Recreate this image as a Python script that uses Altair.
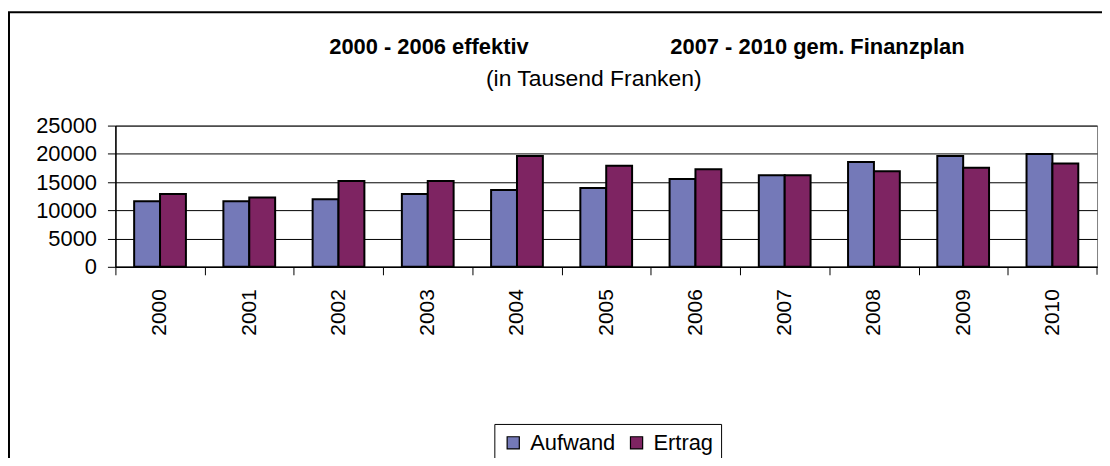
import altair as alt
import pandas as pd

years = ["2000", "2001", "2002", "2003", "2004", "2005", "2006", "2007", "2008", "2009", "2010"]
aufwand = [11600, 11600, 11950, 12900, 13600, 13950, 15550, 16200, 18550, 19600, 19950]
ertrag = [12900, 12250, 15200, 15200, 19600, 17900, 17250, 16200, 16900, 17550, 18300]
series = ["Aufwand", "Ertrag"]
colors = ["#7479B8", "#7E2462"]
y_ticks = [0, 5000, 10000, 15000, 20000, 25000]
title_left = ["2000 - 2006 effektiv"]
title_right = ["2007 - 2010 gem. Finanzplan"]
subtitle = ["(in Tausend Franken)"]

rows = []
for i, yr in enumerate(years):
    rows.append({"Jahr": yr, "Serie": series[0], "Wert": aufwand[i]})
    rows.append({"Jahr": yr, "Serie": series[1], "Wert": ertrag[i]})
df = pd.DataFrame(rows)

FONT = "Liberation Sans"
STEP = 987 / 11

bars = alt.Chart(df).mark_bar(stroke="black", strokeWidth=2).encode(
    x=alt.X("Jahr:N", sort=years,
            scale=alt.Scale(paddingInner=0.42, paddingOuter=0.21),
            axis=alt.Axis(title=None, labelAngle=-90, labelAlign="right", labelBaseline="middle",
                          labelFont=FONT, labelFontSize=21, labelColor="black", labelPadding=14,
                          tickOffset=-STEP / 2, labelOffset=STEP / 2, tickSize=8, tickColor="black",
                          domainColor="black", domainWidth=1.5, grid=False)),
    xOffset=alt.XOffset("Serie:N", sort=series, scale=alt.Scale(paddingInner=0, paddingOuter=0)),
    y=alt.Y("Wert:Q", scale=alt.Scale(domain=[0, 25000], nice=False),
            axis=alt.Axis(title=None, values=y_ticks, format="d", labelFont=FONT, labelFontSize=22,
                          labelColor="black", labelPadding=11, tickSize=8, tickColor="black",
                          domainColor="black", domainWidth=1.5, grid=True, gridColor="black",
                          gridWidth=1)),
    color=alt.Color("Serie:N", sort=series,
                    scale=alt.Scale(domain=series, range=colors),
                    legend=alt.Legend(title=None, orient="none", legendX=381, legendY=300,
                                      direction="horizontal", symbolType="square", symbolSize=150,
                                      symbolStrokeColor="black", symbolStrokeWidth=1.2,
                                      labelFont=FONT, labelFontSize=22, labelColor="black",
                                      strokeColor="black", fillColor="white", padding=8,
                                      columnPadding=10, labelOffset=6)),
)

t1 = alt.Chart(pd.DataFrame({"t": title_left})).mark_text(
    font=FONT, fontSize=22, fontWeight="bold", align="left", baseline="middle", color="black"
).encode(x=alt.value(215), y=alt.value(-79), text="t:N")

t2 = alt.Chart(pd.DataFrame({"t": title_right})).mark_text(
    font=FONT, fontSize=22, fontWeight="bold", align="left", baseline="middle", color="black"
).encode(x=alt.value(558), y=alt.value(-79), text="t:N")

t3 = alt.Chart(pd.DataFrame({"t": subtitle})).mark_text(
    font=FONT, fontSize=23, align="center", baseline="middle", color="black"
).encode(x=alt.value(481), y=alt.value(-47), text="t:N")

end_tick = alt.Chart(pd.DataFrame({"a": [0]})).mark_rule(color="black", strokeWidth=1).encode(
    x=alt.value(987), y=alt.value(142), y2=alt.value(150))

border_left = alt.Chart(pd.DataFrame({"a": [0]})).mark_rule(color="black", strokeWidth=2).encode(
    x=alt.value(-107), y=alt.value(-114), y2=alt.value(400))
border_top = alt.Chart(pd.DataFrame({"a": [0]})).mark_rule(color="black", strokeWidth=2).encode(
    y=alt.value(-114), x=alt.value(-108), x2=alt.value(1100))

chart = alt.layer(bars, t1, t2, t3, end_tick, border_left, border_top).properties(
    width=987, height=142,
    padding={"left": 108, "top": 117, "right": 5, "bottom": 191},
    autosize=alt.AutoSizeParams(type="none"),
).configure_view(stroke="#808080", strokeWidth=1)

chart.save("out.html", embed_options={"renderer": "svg", "actions": False})
